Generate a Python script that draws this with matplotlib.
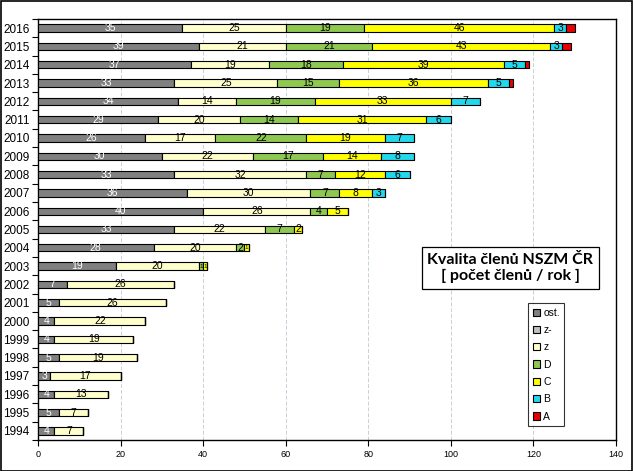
import numpy as np
import matplotlib.pyplot as plt
from matplotlib.patches import Rectangle

plt.rcParams['font.family'] = ['Liberation Sans', 'DejaVu Sans']

# data (rows from 2016 down to 1994)
years = [2016, 2015, 2014, 2013, 2012, 2011, 2010, 2009, 2008, 2007, 2006, 2005,
         2004, 2003, 2002, 2001, 2000, 1999, 1998, 1997, 1996, 1995, 1994]
ost = [35, 39, 37, 33, 34, 29, 26, 30, 33, 36, 40, 33, 28, 19, 7, 5, 4, 4, 5, 3, 4, 5, 4]
z_minus = [0] * 23
z = [25, 21, 19, 25, 14, 20, 17, 22, 32, 30, 26, 22, 20, 20, 26, 26, 22, 19, 19, 17, 13, 7, 7]
D = [19, 21, 18, 15, 19, 14, 22, 17, 7, 7, 4, 7, 2, 1, 0, 0, 0, 0, 0, 0, 0, 0, 0]
C = [46, 43, 39, 36, 33, 31, 19, 14, 12, 8, 5, 2, 1, 1, 0, 0, 0, 0, 0, 0, 0, 0, 0]
B = [3, 3, 5, 5, 7, 6, 7, 8, 6, 3, 0, 0, 0, 0, 0, 0, 0, 0, 0, 0, 0, 0, 0]
A = [2, 2, 1, 1, 0, 0, 0, 0, 0, 0, 0, 0, 0, 0, 0, 0, 0, 0, 0, 0, 0, 0, 0]

series = [("ost.", ost, "#808080", "white", True),
          ("z-", z_minus, "#c0c0c0", "black", True),
          ("z", z, "#ffffcc", "black", True),
          ("D", D, "#8fc850", "black", True),
          ("C", C, "#ffff00", "black", True),
          ("B", B, "#22d8ec", "black", True),
          ("A", A, "#e80000", "black", False)]

fig = plt.figure(figsize=(6.33, 4.71), dpi=100)
ax = fig.add_axes([0.060, 0.0658, 0.913, 0.894])

y = np.arange(len(years))
left = np.zeros(len(years))
for name, vals, col, tcol, show in series:
    vals = np.array(vals, dtype=float)
    ax.barh(y, vals, left=left, height=0.4, color=col,
            edgecolor="black", linewidth=0.8, label=name, zorder=3)
    if show:
        for yi, l, v in zip(y, left, vals):
            if v > 0:
                fs = 7.5 if v > 1 else 4.5
                ax.text(l + v / 2, yi, f"{int(v)}", ha="center", va="center",
                        fontsize=fs, color=tcol, zorder=4)
    left += vals

ax.set_xlim(0, 140)
ax.set_ylim(len(years) - 0.5, -0.5)
ax.set_xticks(np.arange(0, 141, 20))
ax.set_yticks(y)
ax.set_yticklabels([str(v) for v in years], fontsize=8.5)
ax.set_yticks(np.arange(-0.5, len(years), 1), minor=True)
ax.tick_params(axis="y", which="major", length=0, pad=6)
ax.tick_params(axis="y", which="minor", length=4, width=0.8, direction="out")
ax.tick_params(axis="x", labelsize=6.5, length=4, width=0.8, direction="out")
ax.xaxis.grid(True, color="#c8d0d8", linewidth=0.7, linestyle=(0, (4, 2)), zorder=0)
for sp in ax.spines.values():
    sp.set_linewidth(1.0)

leg = ax.legend(loc="upper left", bbox_to_anchor=(0.848, 0.325), fontsize=7.5,
                frameon=True, fancybox=False, edgecolor="black",
                handlelength=0.7, handleheight=0.7, handletextpad=0.3,
                labelspacing=0.7, borderpad=0.45, borderaxespad=0)
leg.get_frame().set_linewidth(0.8)

ax.text(0.817, 0.408, "Kvalita členů NSZM ČR\n[ počet členů / rok ]",
        transform=ax.transAxes, ha="center", va="center", fontsize=11.5,
        fontweight="bold", family=["Lato", "DejaVu Sans"], linespacing=1.2,
        bbox=dict(boxstyle="square,pad=0.35", facecolor="white",
                  edgecolor="black", linewidth=0.9), zorder=5)

fig.patches.append(Rectangle((0.001, 0.001), 0.997, 0.997, transform=fig.transFigure,
                             fill=False, edgecolor="black", linewidth=1.2))

fig.savefig("out.png", dpi=100)
